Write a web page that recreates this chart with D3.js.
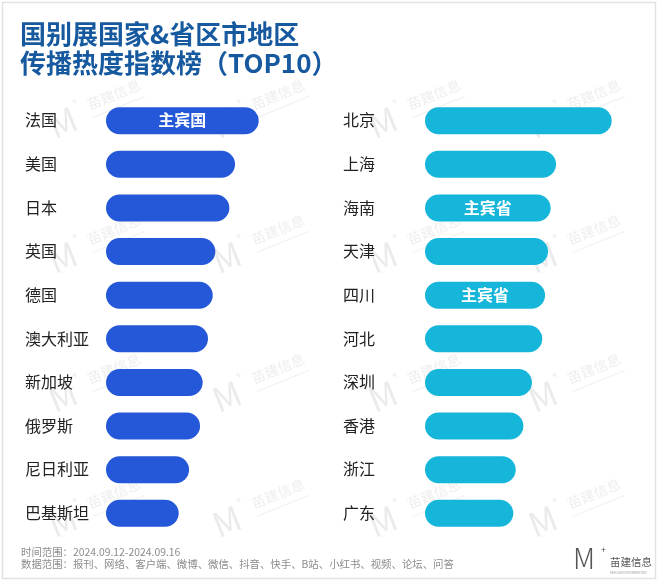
<!DOCTYPE html>
<html>
<head>
<meta charset="utf-8">
<script src="https://cdn.jsdelivr.net/npm/d3@7"></script>
<style>
  body { margin: 0; background: #fff; }
  svg { display: block; font-family: "Noto Sans CJK SC", "Noto Sans", sans-serif; }
</style>
</head>
<body>
<div id="chart"></div>
<script>
// heat index, normalised so that the top item of each list = 100
var countries = ["法国", "美国", "日本", "英国", "德国", "澳大利亚", "新加坡", "俄罗斯", "尼日利亚", "巴基斯坦"];
var countryValues = [100, 84.5, 80.8, 71.6, 69.9, 66.8, 63.3, 61.6, 54.4, 47.6];
var countryTags = ["主宾国", "", "", "", "", "", "", "", "", ""];

var regions = ["北京", "上海", "海南", "天津", "四川", "河北", "深圳", "香港", "浙江", "广东"];
var regionValues = [100, 70.2, 67.3, 65.9, 64.3, 62.8, 57.3, 52.7, 48.6, 47.3];
var regionTags = ["", "", "主宾省", "", "主宾省", "", "", "", "", ""];

var titleLines = ["国别展国家&省区市地区", "传播热度指数榜（TOP10）"];
var footLines = ["时间范围：2024.09.12-2024.09.16",
  "数据范围：报刊、网络、客户端、微博、微信、抖音、快手、B站、小红书、视频、论坛、问答"];

var w = 660, h = 581;
var barH = 27;

var svg = d3.select("#chart").append("svg")
  .attr("width", w).attr("height", h);

// frame
svg.append("rect")
  .attr("x", 2.5).attr("y", 2.5)
  .attr("width", 653).attr("height", 576)
  .attr("fill", "#fff").attr("stroke", "#e2e2e2").attr("stroke-width", 1.5);

// faint watermarks
var wmX = [63, 227, 383, 543], wmY = [123, 258, 397, 522];
var wm = svg.append("g").attr("opacity", 0.45);
wmY.forEach(function(y) {
  wmX.forEach(function(x) {
    var g = wm.append("g").attr("transform", "translate(" + x + "," + y + ") rotate(-22)");
    g.append("text").text("M")
      .attr("text-anchor", "middle").attr("y", 12)
      .attr("font-size", 34).attr("font-weight", 400)
      .attr("fill", "#d2d2d2");
    g.append("text").text("+")
      .attr("x", 16).attr("y", -12)
      .attr("font-size", 11).attr("fill", "#d2d2d2");
    g.append("text").text("苗建信息")
      .attr("x", 30).attr("y", -2)
      .attr("font-size", 14).attr("fill", "#d8d8d8");
    g.append("line")
      .attr("x1", 30).attr("x2", 86).attr("y1", 6).attr("y2", 6)
      .attr("stroke", "#e4e4e4").attr("stroke-width", 1.5);
  });
});

// title
svg.selectAll("text.title")
  .data(titleLines)
  .enter()
  .append("text")
  .attr("class", "title")
  .text(function(d) { return d; })
  .attr("x", 20)
  .attr("y", function(d, i) { return 44 + i * 29; })
  .attr("font-size", 26)
  .attr("font-weight", 700)
  .attr("fill", "#17599f");

var y = d3.scalePoint().domain(d3.range(10)).range([120.7, 513.3]);

function drawPanel(names, values, tags, labelX, x, color) {
  var rows = values.map(function(v, i) { return { name: names[i], value: v, tag: tags[i], i: i }; });
  var g = svg.append("g");

  g.selectAll("text.name")
    .data(rows)
    .enter()
    .append("text")
    .attr("class", "name")
    .text(function(d) { return d.name; })
    .attr("x", labelX)
    .attr("y", function(d) { return y(d.i); })
    .attr("dy", "0.36em")
    .attr("font-size", 16)
    .attr("fill", "#222");

  g.selectAll("rect")
    .data(rows)
    .enter()
    .append("rect")
    .attr("x", x(0))
    .attr("y", function(d) { return y(d.i) - barH / 2; })
    .attr("width", function(d) { return x(d.value) - x(0); })
    .attr("height", barH)
    .attr("rx", barH / 2)
    .attr("fill", color);

  g.selectAll("text.tag")
    .data(rows.filter(function(d) { return d.tag !== ""; }))
    .enter()
    .append("text")
    .attr("class", "tag")
    .text(function(d) { return d.tag; })
    .attr("x", function(d) { return (x(0) + x(d.value)) / 2; })
    .attr("y", function(d) { return y(d.i); })
    .attr("dy", "0.36em")
    .attr("text-anchor", "middle")
    .attr("font-size", 16)
    .attr("font-weight", 700)
    .attr("fill", "#fff");
}

var xLeft = d3.scaleLinear().domain([0, 100]).range([106, 258.7]);
var xRight = d3.scaleLinear().domain([0, 100]).range([425, 611.7]);

drawPanel(countries, countryValues, countryTags, 25, xLeft, "#2458d8");
drawPanel(regions, regionValues, regionTags, 343, xRight, "#15b6d9");

// footer
svg.selectAll("text.foot")
  .data(footLines)
  .enter()
  .append("text")
  .attr("class", "foot")
  .text(function(d) { return d; })
  .attr("x", 21)
  .attr("y", function(d, i) { return 555.5 + i * 12.8; })
  .attr("font-size", 10.4)
  .attr("fill", "#8c8c8c");

// logo
var logo = svg.append("g");
logo.append("text").text("M")
  .attr("x", 573).attr("y", 569)
  .attr("font-size", 28).attr("font-weight", 300)
  .attr("fill", "#555");
logo.append("text").text("+")
  .attr("x", 601).attr("y", 553)
  .attr("font-size", 9).attr("fill", "#555");
logo.append("text").text("苗建信息")
  .attr("x", 610).attr("y", 566)
  .attr("font-size", 10.5).attr("fill", "#555");
logo.append("text").text("MIAOJIAN INFORMATION")
  .attr("x", 610).attr("y", 574)
  .attr("font-size", 3.2).attr("fill", "#999");
</script>
</body>
</html>
